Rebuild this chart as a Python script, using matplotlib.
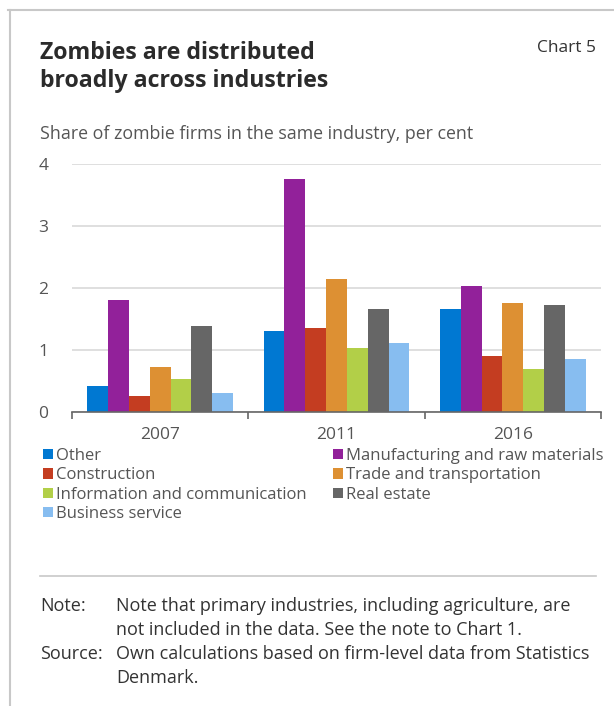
import matplotlib
matplotlib.use("Agg")
import matplotlib.pyplot as plt
from matplotlib.lines import Line2D
import numpy as np

plt.rcParams['font.family'] = ['Open Sans', 'DejaVu Sans']

years = ['2007', '2011', '2016']
industries = ['Other', 'Manufacturing and raw materials', 'Construction',
              'Trade and transportation', 'Information and communication',
              'Real estate', 'Business service']
colors = ['#0078d2', '#92219a', '#c43d21', '#dd9033', '#b2cf48', '#666666', '#87bdf0']

other = [0.42, 1.31, 1.66]
manufacturing = [1.80, 3.76, 2.04]
construction = [0.26, 1.35, 0.91]
trade = [0.73, 2.15, 1.76]
information = [0.53, 1.03, 0.69]
real_estate = [1.39, 1.66, 1.72]
business = [0.31, 1.11, 0.85]
series = [other, manufacturing, construction, trade, information, real_estate, business]

W, H = 614, 706
fig = plt.figure(figsize=(W / 100, H / 100), dpi=100)

def fx(px):
    return px / W

def fy(py):
    return 1 - py / H

ax = fig.add_axes([fx(72), fy(412), fx(601) - fx(72), fy(164) - fy(412)])

x = np.arange(len(years))
bw = 0.118
handles = []
for i, (vals, c) in enumerate(zip(series, colors)):
    b = ax.bar(x + (i - 3) * bw, vals, bw, color=c, label=industries[i], zorder=3)
    handles.append(b)

ax.set_ylim(0, 4)
ax.set_xlim(-0.5, 2.5)
ax.set_yticks([0, 1, 2, 3, 4])
ax.set_xticks(x)
ax.set_xticklabels(years)
ax.set_xticks([-0.5, 0.5, 1.5, 2.5], minor=True)
ax.tick_params(axis='x', which='major', length=0, pad=11, labelsize=12.5, labelcolor='#555555')
ax.tick_params(axis='x', which='minor', length=5, width=1.2, color='#666666', direction='out')
ax.tick_params(axis='y', length=0, pad=17, labelsize=12.5, labelcolor='#555555')
ax.yaxis.grid(True, color='#d9d9d9', linewidth=1.2, zorder=0)
for s in ['left', 'right', 'top']:
    ax.spines[s].set_visible(False)
ax.spines['bottom'].set_color('#666666')
ax.spines['bottom'].set_linewidth(1.2)
ax.spines['bottom'].set_zorder(4)

# row-major order like the original legend
order = [0, 2, 4, 6, 1, 3, 5]
fig.legend([handles[i] for i in order], [industries[i] for i in order],
           loc='upper left', bbox_to_anchor=(fx(43), fy(448)), ncol=2,
           frameon=False, fontsize=12, handlelength=0.6, handleheight=0.6,
           handletextpad=0.2, columnspacing=1.55, labelspacing=0.2,
           borderpad=0, borderaxespad=0, labelcolor='#555555')

fig.text(fx(40), fy(67), 'Zombies are distributed\nbroadly across industries',
         fontsize=16.7, fontweight='bold', color='#2b2b2b', va='center',
         ha='left', linespacing=1.22)
fig.text(fx(596), fy(48), 'Chart 5', fontsize=12.5, color='#333333', ha='right', va='center')
fig.text(fx(40), fy(134), 'Share of zombie firms in the same industry, per cent',
         fontsize=12.8, color='#555555', ha='left', va='center')

fig.add_artist(Line2D([fx(40), fx(596)], [fy(576), fy(576)], color='#c8c8c8', linewidth=1.2))
fig.add_artist(Line2D([fx(8), fx(614)], [fy(10), fy(10)], color='#c8c8c8', linewidth=1.5))
fig.add_artist(Line2D([fx(10), fx(10)], [fy(10), fy(706)], color='#c8c8c8', linewidth=1.5))

notes = [('Note:', ['Note that primary industries, including agriculture, are',
                    'not included in the data. See the note to Chart 1.'], 606),
         ('Source:', ['Own calculations based on firm-level data from Statistics',
                      'Denmark.'], 654)]
for lab, lines, y in notes:
    fig.text(fx(40), fy(y), lab, fontsize=13, color='#333333', ha='left', va='center')
    for k, ln in enumerate(lines):
        fig.text(fx(116), fy(y + 24 * k), ln, fontsize=13, color='#333333', ha='left', va='center')

fig.savefig('out.png', dpi=100, facecolor='white')
